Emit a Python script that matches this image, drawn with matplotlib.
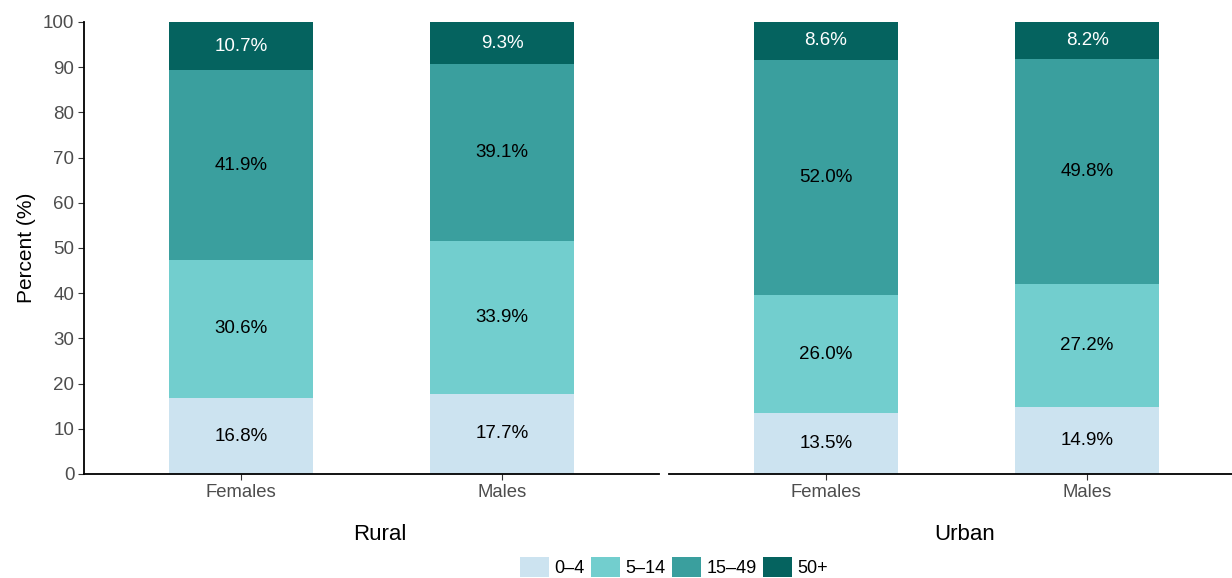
import matplotlib.pyplot as plt

plt.rcParams['font.family'] = ['Liberation Sans', 'DejaVu Sans']

areas = ["Rural", "Urban"]
sexes = ["Females", "Males"]
age_groups = ["0\u20134", "5\u201314", "15\u201349", "50+"]
colors = ["#cce3f0", "#72cece", "#3a9f9e", "#05635f"]
label_colors = ["black", "black", "black", "white"]

# percent by age group, one list per sex (Females, Males)
rural = {
    "0\u20134": [16.8, 17.7],
    "5\u201314": [30.6, 33.9],
    "15\u201349": [41.9, 39.1],
    "50+": [10.7, 9.3],
}
urban = {
    "0\u20134": [13.5, 14.9],
    "5\u201314": [26.0, 27.2],
    "15\u201349": [52.0, 49.8],
    "50+": [8.6, 8.2],
}
panels = [rural, urban]

fig = plt.figure(figsize=(12.32, 5.78), dpi=100)
W, H = 1232, 578
ax_w = 575 / W
ax_b = 1 - 474 / H
ax_h = (474 - 22) / H
lefts = [84 / W, 669 / W]

x = [1, 2]
for i, (data, area) in enumerate(zip(panels, areas)):
    ax = fig.add_axes([lefts[i], ax_b, ax_w, ax_h])
    bottom = [0, 0]
    for grp, col, lc in zip(age_groups, colors, label_colors):
        vals = data[grp]
        ax.bar(x, vals, bottom=bottom, width=0.55, color=col, label=grp)
        for xi, b, v in zip(x, bottom, vals):
            ax.text(xi, b + v / 2, f"{v:.1f}%", ha="center", va="center",
                    fontsize=13.5, color=lc)
        bottom = [b + v for b, v in zip(bottom, vals)]
    ax.set_xlim(0.4, 2.6)
    ax.set_ylim(0, 100)
    ax.set_xticks(x)
    ax.set_xticklabels(sexes, fontsize=13.3, color="#4d4d4d")
    for s in ["top", "right"]:
        ax.spines[s].set_visible(False)
    ax.spines["bottom"].set_linewidth(1.3)
    ax.tick_params(axis="x", length=4, color="#333333", pad=3)
    ax.set_xlabel(area, fontsize=16)
    ax.xaxis.set_label_coords(0.5 + 8 / 575, -50 / 452)
    if i == 0:
        ax.set_yticks(range(0, 101, 10))
        ax.tick_params(axis="y", labelsize=13.5, labelcolor="#4d4d4d",
                       length=4, color="#333333", pad=3)
        ax.spines["left"].set_linewidth(1.3)
        ax.set_ylabel("Percent (%)", fontsize=15)
        ax.yaxis.set_label_coords(-48 / 575, 0.5)
        handles, labels = ax.get_legend_handles_labels()
    else:
        ax.spines["left"].set_visible(False)
        ax.set_yticks([])

fig.legend(handles, labels, loc="center", bbox_to_anchor=(674 / W, 11 / H),
           ncol=4, frameon=False, fontsize=13, handlelength=1.6,
           handleheight=1.28, handletextpad=0.3, columnspacing=0.35,
           borderpad=0.2)

fig.savefig("out.png", dpi=100)
